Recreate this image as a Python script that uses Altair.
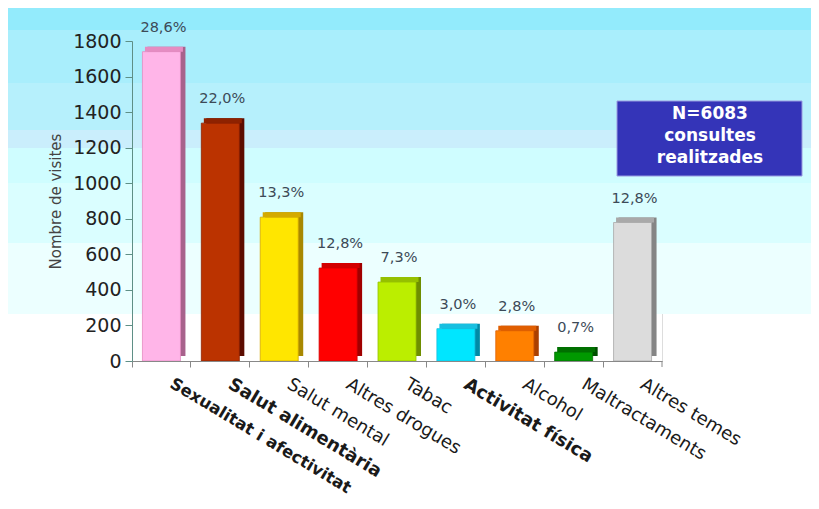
import altair as alt
import pandas as pd

categories = ["Sexualitat i afectivitat", "Salut alimentària", "Salut mental",
              "Altres drogues", "Tabac", "Activitat física", "Alcohol",
              "Maltractaments", "Altres temes"]
visits = [1740, 1338, 809, 523, 444, 182, 170, 50, 779]
pct_labels = ["28,6%", "22,0%", "13,3%", "12,8%", "7,3%", "3,0%", "2,8%", "0,7%", "12,8%"]
front_colors = ["#ffb5e8", "#bb3300", "#ffe600", "#ff0000", "#bbee00",
                "#00e6ff", "#ff8000", "#009900", "#dcdcdc"]
top_colors = ["#e58cc2", "#8e2200", "#d4aa00", "#d20000", "#95c000",
              "#18bfe0", "#e05e00", "#007000", "#a9a9a9"]
side_colors = ["#a8628c", "#5c0c00", "#a88800", "#a00000", "#6e8e00",
               "#008aa6", "#aa4000", "#004f00", "#858585"]
bold_labels = ["Sexualitat i afectivitat", "Salut alimentària", "Activitat física"]
box_lines = ["N=6083", "consultes", "realitzades"]
y_ticks = [0, 200, 400, 600, 800, 1000, 1200, 1400, 1600, 1800]

df = pd.DataFrame({"cat": categories, "val": visits, "pct": pct_labels,
                   "front": front_colors, "top": top_colors, "side": side_colors})
one = pd.DataFrame({"a": [0]})

FONT = "DejaVu Sans"
bold_expr = " || ".join([f"datum.value == '{b}'" for b in bold_labels])

x_enc = alt.X("cat:N", sort=categories,
              scale=alt.Scale(domain=categories, paddingInner=0, paddingOuter=0),
              axis=alt.Axis(title=None, bandPosition=0, labelAngle=31, labelAlign="left",
                            labelBaseline="top", labelOffset=14, labelPadding=8,
                            labelFontSize=alt.expr(f"datum.value == '{categories[0]}' ? 16.5 : 18"),
                            labelColor="#1a1a1a", labelFont=FONT,
                            labelFontWeight=alt.expr(f"({bold_expr}) ? 'bold' : 'normal'"),
                            labelLimit=400, labelOverlap=False, zindex=1,
                            tickSize=6, tickColor="#888888", domainColor="#888888"))
y_enc = alt.Y("val:Q", scale=alt.Scale(domain=[0, 1800], nice=False),
              axis=alt.Axis(title="Nombre de visites", values=y_ticks, grid=False, format="d",
                            tickSize=7, tickColor="#5f8f86", domainColor="#5f8f86",
                            labelFontSize=19, labelColor="#222222", labelFont=FONT,
                            labelPadding=4, titleFontSize=15, titleFontWeight="normal",
                            titleColor="#444444", titleFont=FONT, titlePadding=9,
                            zindex=1))

bg = alt.Chart(one).mark_rect(
    color=alt.LinearGradient(
        gradient="linear", x1=0, x2=0, y1=0, y2=1,
        stops=[
            alt.GradientStop(color="#93ebfc", offset=0.0),
            alt.GradientStop(color="#93ebfc", offset=0.078),
            alt.GradientStop(color="#a9eefc", offset=0.078),
            alt.GradientStop(color="#a9eefc", offset=0.25),
            alt.GradientStop(color="#b6f0fc", offset=0.25),
            alt.GradientStop(color="#b6f0fc", offset=0.403),
            alt.GradientStop(color="#caeefc", offset=0.403),
            alt.GradientStop(color="#caeefc", offset=0.461),
            alt.GradientStop(color="#cffdff", offset=0.461),
            alt.GradientStop(color="#cffdff", offset=0.575),
            alt.GradientStop(color="#dafeff", offset=0.575),
            alt.GradientStop(color="#dafeff", offset=0.769),
            alt.GradientStop(color="#ecffff", offset=0.769),
            alt.GradientStop(color="#ecffff", offset=1.0),
        ])
).encode(x=alt.value(-124), x2=alt.value(687), y=alt.value(-35), y2=alt.value(273))

base = alt.Chart(df)

side = base.mark_bar(size=38, xOffset=5, yOffset=-5, y2Offset=-5).encode(
    x=x_enc, y=y_enc, y2=alt.datum(0), color=alt.Color("side:N", scale=None))
top = base.mark_bar(size=38, xOffset=2.5, yOffset=-5, y2Offset=0).encode(
    x=x_enc, y=y_enc, y2=alt.Y2("val:Q"), color=alt.Color("top:N", scale=None))
front = base.mark_bar(size=38, strokeWidth=0.8).encode(
    x=x_enc, y=y_enc, y2=alt.datum(0), color=alt.Color("front:N", scale=None),
    stroke=alt.Stroke("top:N", scale=None))
labels = base.mark_text(baseline="bottom", dy=-17, xOffset=2, fontSize=14.5,
                        color="#3d4a57", font=FONT).encode(x=x_enc, y=y_enc, text="pct:N")

end_tick = alt.Chart(one).mark_rule(color="#888888").encode(
    x=alt.value(530), y=alt.value(320), y2=alt.value(326))

box = alt.Chart(one).mark_rect(fill="#3434b8", stroke="#9a9ae0", strokeWidth=1).encode(
    x=alt.value(485), x2=alt.value(670), y=alt.value(60), y2=alt.value(135))
box_text = alt.Chart(one).mark_text(text=box_lines, align="center", baseline="top",
                                    fontSize=17, fontWeight="bold", color="white",
                                    lineHeight=22, font=FONT).encode(
    x=alt.value(578), y=alt.value(65))

chart = alt.layer(bg, side, top, front, labels, end_tick, box, box_text).properties(
    width=530, height=320, autosize="none",
    padding={"left": 124, "top": 33, "right": 149, "bottom": 135}
).configure_view(stroke=None).configure(background="white")

chart.save("out.html", embed_options={"renderer": "svg", "actions": False})
